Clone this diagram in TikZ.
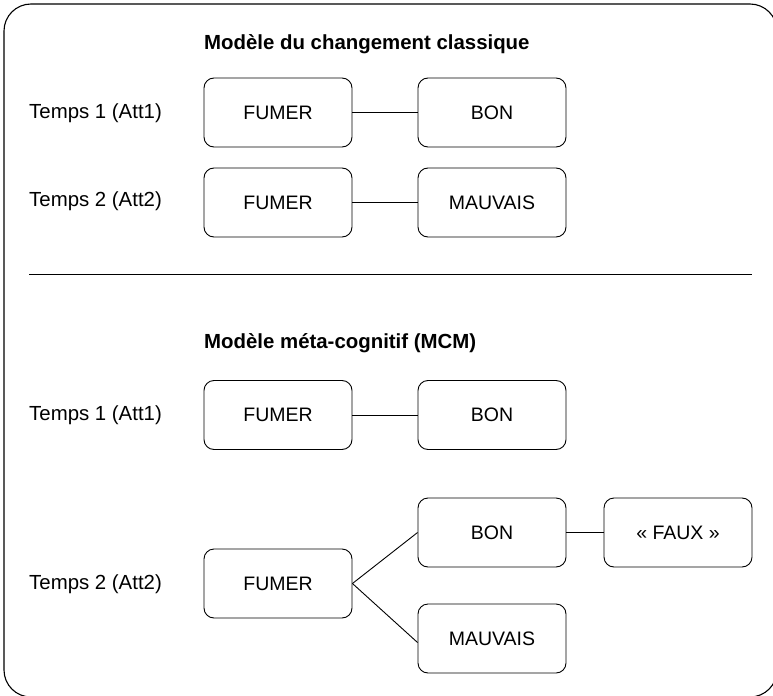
\documentclass[tikz,border=0pt]{standalone}
\usepackage{fontspec}
\setmainfont{Liberation Sans}
\begin{document}
\begin{tikzpicture}[x=1bp,y=-1bp,
  box/.style={draw, line width=0.9bp, rounded corners=10bp, minimum width=148bp, minimum height=69bp, inner sep=0pt, font=\fontsize{19.5bp}{23bp}\selectfont},
  lbl/.style={anchor=west, inner sep=0pt, font=\fontsize{20.4bp}{24bp}\selectfont},
  ttl/.style={anchor=west, inner sep=0pt, font=\fontsize{20.4bp}{24bp}\selectfont\bfseries},
  conn/.style={draw, line width=0.9bp}]
\useasboundingbox (0,0) rectangle (773,696);
\clip (0,0) rectangle (773,696);
\draw[line width=1.1bp, rounded corners=27bp] (4,4) rectangle (777,697);
\coordinate (d1) at (29,274);
\coordinate (d2) at (752,274);
\draw[line width=1bp] (d1) -- (d2);

\node[ttl] (t1) at (204,44) {Modèle du changement classique};
\node[lbl] (l1) at (29,113) {Temps 1 (Att1)};
\node[lbl] (l2) at (29,201) {Temps 2 (Att2)};
\node[box] (f1) at (278,112.5) {FUMER};
\node[box] (b1) at (492,112.5) {BON};
\node[box] (f2) at (278,202.5) {FUMER};
\node[box] (m1) at (492,202.5) {MAUVAIS};
\draw[conn] (f1) -- (b1);
\draw[conn] (f2) -- (m1);

\node[ttl] (t2) at (204,343) {Modèle méta-cognitif (MCM)};
\node[lbl] (l3) at (29,415) {Temps 1 (Att1)};
\node[lbl] (l4) at (29,584) {Temps 2 (Att2)};
\node[box] (f3) at (278,415) {FUMER};
\node[box] (b3) at (492,415) {BON};
\node[box] (f4) at (278,583.5) {FUMER};
\node[box] (b4) at (492,532.5) {BON};
\node[box] (x4) at (678,532.5) {« FAUX »};
\node[box] (m4) at (492,638.5) {MAUVAIS};
\draw[conn] (f3) -- (b3);
\draw[conn] (b4) -- (x4);
\draw[conn] (f4.east) -- (b4.west);
\draw[conn] (f4.east) -- ([yshift=-4bp]m4.west);
\end{tikzpicture}
\end{document}
